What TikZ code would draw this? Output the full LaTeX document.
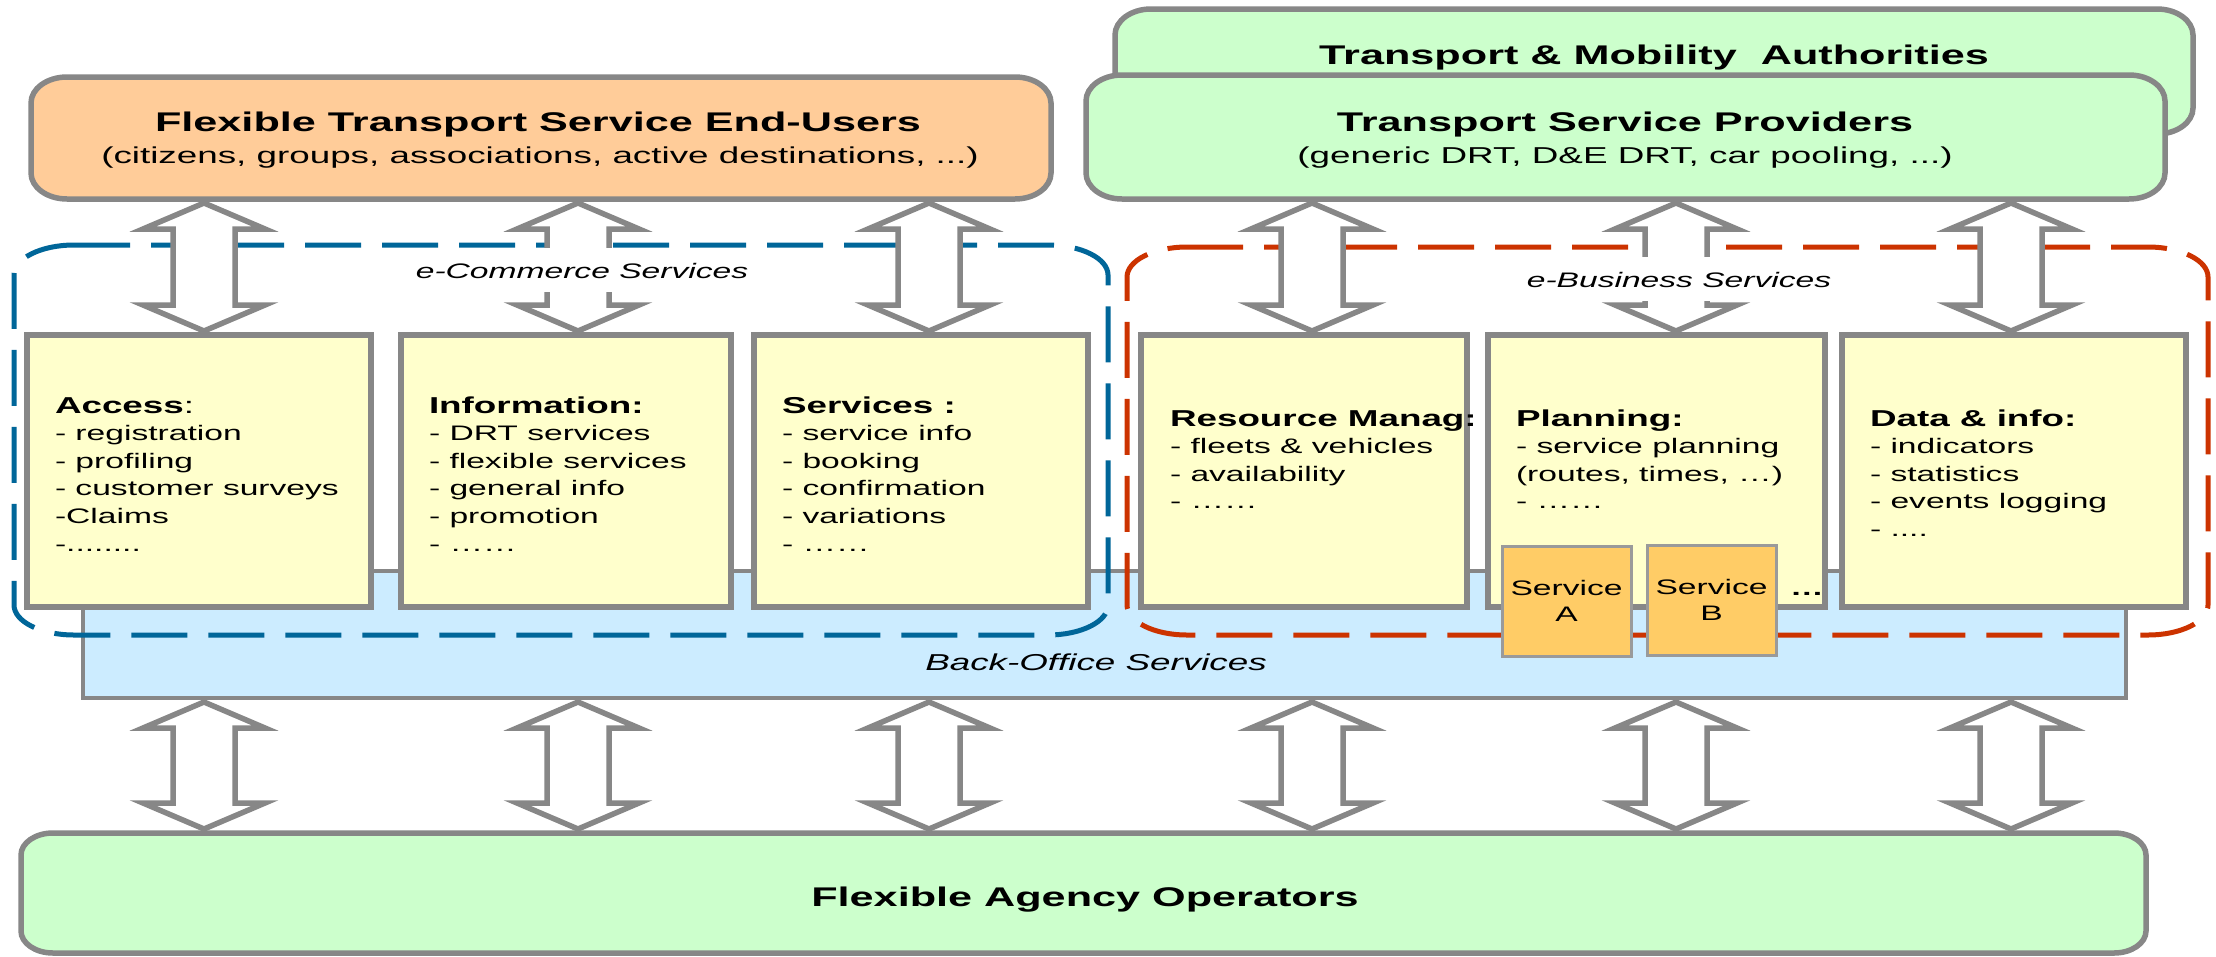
\documentclass[tikz,border=0pt]{standalone}
\usepackage{fontspec}
\setmainfont{Liberation Sans}[FakeStretch=1.6]
\usetikzlibrary{calc}

\definecolor{edgegray}{HTML}{878787}
\definecolor{svcgray}{HTML}{9A9A9A}
\definecolor{usersfill}{HTML}{FFCC99}
\definecolor{greenfill}{HTML}{CCFFCC}
\definecolor{yellowfill}{HTML}{FFFFCC}
\definecolor{bofill}{HTML}{CCECFF}
\definecolor{svcfill}{HTML}{FFCC66}
\definecolor{ecomblue}{HTML}{006699}
\definecolor{ebizred}{HTML}{CC3300}

% font sizes (1pt = one unit of the picture)
\newcommand\bigtitlefont{\fontsize{27pt}{32pt}\selectfont\bfseries}
\newcommand\subtitlefont{\fontsize{23pt}{28pt}\selectfont}
\newcommand\headfont{\fontsize{23pt}{27.6pt}\selectfont\bfseries}
\newcommand\headreg{\fontsize{23pt}{27.6pt}\selectfont}
\newcommand\itemfont{\fontsize{21pt}{27.6pt}\selectfont}
\newcommand\tagfont{\fontsize{21pt}{26pt}\selectfont}
\newcommand\areafont{\fontsize{21pt}{26pt}\selectfont\itshape}

% left-aligned list whose baseline is the baseline of its first line
\newcommand\stackedlines[1]{\vtop{\itemfont\halign{##\hfil\cr#1\crcr}}}

% frame with elliptic corners around a named node: #1 style, #2 node, #3 x radius, #4 y radius
\newcommand\softframe[4]{%
  \path[#1] ([xshift=#3]#2.north west) -- ([xshift=-#3]#2.north east)
    arc[start angle=90, end angle=0, x radius=#3, y radius=#4]
    -- ([yshift=#4]#2.south east)
    arc[start angle=0, end angle=-90, x radius=#3, y radius=#4]
    -- ([xshift=#3]#2.south west)
    arc[start angle=270, end angle=180, x radius=#3, y radius=#4]
    -- ([yshift=-#4]#2.north west)
    arc[start angle=180, end angle=90, x radius=#3, y radius=#4]
    -- cycle;}

\tikzset{
  slot/.style={inner sep=0pt, outer sep=0pt, anchor=north west},
  ybox/.style={slot, draw=edgegray, line width=5.5pt, fill=yellowfill, minimum height=272pt},
  svcbox/.style={slot, draw=svcgray, line width=3pt, fill=svcfill, minimum width=129pt,
    minimum height=110pt, align=center, font=\tagfont},
  topframe/.style={draw=edgegray, line width=5.5pt},
  areaframe/.style={line width=5pt, dash pattern=on 56pt off 21pt},
  txt/.style={inner sep=0pt, outer sep=0pt},
  arealabel/.style={fill=white, inner xsep=8pt, inner ysep=0pt, text height=30pt,
    text depth=14pt, anchor=base, font=\areafont},
  twoway/.style={draw=edgegray, line width=5.5pt, fill=white, line join=miter,
    to path={let \p1=(\tikztostart), \p2=(\tikztotarget) in
      (\x1,\y1-4pt) -- (\x1+61pt,\y1-30pt) -- (\x1+31pt,\y1-30pt)
      -- (\x1+31pt,\y2+30pt) -- (\x1+61pt,\y2+30pt) -- (\x1,\y2+4pt)
      -- (\x1-61pt,\y2+30pt) -- (\x1-31pt,\y2+30pt)
      -- (\x1-31pt,\y1-30pt) -- (\x1-61pt,\y1-30pt) -- cycle}}
}

\begin{document}
\begin{tikzpicture}[x=1pt, y=-1pt]
\useasboundingbox (0,0) rectangle (2216,956);
\fill[white] (0,0) rectangle (2216,956);

% back-office layer
\node[slot, draw=edgegray, line width=3.5pt, fill=bofill, minimum width=2043pt, minimum height=127pt] (bo) at (83,571) {};
\node[txt, anchor=base, font=\fontsize{23pt}{28pt}\selectfont\itshape] (bo-label) at (1096,670) {Back-Office Services};

% service areas
\node[slot, minimum width=1094pt, minimum height=390pt] (ecom) at (14,245) {};
\node[slot, minimum width=1081pt, minimum height=388pt] (ebiz) at (1127,247) {};
\softframe{areaframe, draw=ecomblue}{ecom}{60pt}{30pt}
\softframe{areaframe, draw=ebizred}{ebiz}{60pt}{30pt}

% service boxes
\node[ybox, minimum width=344pt] (acc)  at (27,335) {};
\node[ybox, minimum width=330pt] (info) at (401,335) {};
\node[ybox, minimum width=334pt] (serv) at (754,335) {};
\node[ybox, minimum width=326pt] (res)  at (1141,335) {};
\node[ybox, minimum width=337pt] (plan) at (1488,335) {};
\node[ybox, minimum width=344pt] (data) at (1842,335) {};

\node[txt, anchor=base west] (acc-txt) at (55,413) {\stackedlines{%
  {\headfont Access}{\headreg:}\cr - registration\cr - profiling\cr
  - customer surveys\cr -Claims\cr -........}};
\node[txt, anchor=base west] (info-txt) at (429,413) {\stackedlines{%
  {\headfont Information:}\cr - DRT services\cr - flexible services\cr
  - general info\cr - promotion\cr - ……}};
\node[txt, anchor=base west] (serv-txt) at (782,413) {\stackedlines{%
  {\headfont Services :}\cr - service info\cr - booking\cr
  - confirmation\cr - variations\cr - ……}};
\node[txt, anchor=base west] (res-txt) at (1170,426) {\stackedlines{%
  {\headfont Resource Manag:}\cr - fleets \& vehicles\cr - availability\cr - ……}};
\node[txt, anchor=base west] (plan-txt) at (1516,426) {\stackedlines{%
  {\headfont Planning:}\cr - service planning\cr (routes, times, …)\cr - ……}};
\node[txt, anchor=base west] (data-txt) at (1870,426) {\stackedlines{%
  {\headfont Data \& info:}\cr - indicators\cr - statistics\cr
  - events logging\cr - ....}};

\node[svcbox] (svcA) at (1502,546) {Service\\A};
\node[svcbox] (svcB) at (1647,545) {Service\\B};
\node[txt, anchor=base west, font=\tagfont\bfseries] (more) at (1790,595) {…};

% actors
\node[slot, minimum width=1078pt, minimum height=125pt] (auth) at (1115,9) {};
\softframe{topframe, fill=greenfill}{auth}{36pt}{26pt}
\node[txt, anchor=base, font=\bigtitlefont] (auth-title) at (1654,64) {Transport \& Mobility\ \ Authorities};

\node[slot, minimum width=1079pt, minimum height=124pt] (tsp) at (1086,75) {};
\softframe{topframe, fill=greenfill}{tsp}{36pt}{26pt}
\node[txt, anchor=base, font=\bigtitlefont] (tsp-title) at (1625,131) {Transport Service Providers};
\node[txt, anchor=base, font=\subtitlefont] (tsp-sub) at (1625,163) {(generic DRT, D\&E DRT, car pooling, ...)};

\node[slot, minimum width=1020pt, minimum height=122pt] (users) at (31,77) {};
\softframe{topframe, fill=usersfill}{users}{36pt}{26pt}
\node[txt, anchor=base, font=\bigtitlefont] (users-title) at (538,131) {Flexible Transport Service End-Users};
\node[txt, anchor=base, font=\subtitlefont] (users-sub) at (540,163) {(citizens, groups, associations, active destinations, ...)};

\node[slot, minimum width=2125pt, minimum height=120pt] (agency) at (21,833) {};
\softframe{topframe, fill=greenfill}{agency}{32pt}{22pt}
\node[txt, anchor=base, font=\bigtitlefont] (agency-title) at (1085,906) {Flexible Agency Operators};

% two-way exchanges
\coordinate (a1) at (204,0);
\coordinate (a2) at (578,0);
\coordinate (a3) at (929,0);
\coordinate (a4) at (1312,0);
\coordinate (a5) at (1676,0);
\coordinate (a6) at (2011,0);

\draw[twoway] (a1 |- users.south) to (a1 |- acc.north);
\draw[twoway] (a2 |- users.south) to (a2 |- info.north);
\draw[twoway] (a3 |- users.south) to (a3 |- serv.north);
\draw[twoway] (a4 |- tsp.south) to (a4 |- res.north);
\draw[twoway] (a5 |- tsp.south) to (a5 |- plan.north);
\draw[twoway] (a6 |- tsp.south) to (a6 |- data.north);

\draw[twoway] (a1 |- bo.south) to (a1 |- agency.north);
\draw[twoway] (a2 |- bo.south) to (a2 |- agency.north);
\draw[twoway] (a3 |- bo.south) to (a3 |- agency.north);
\draw[twoway] (a4 |- bo.south) to (a4 |- agency.north);
\draw[twoway] (a5 |- bo.south) to (a5 |- agency.north);
\draw[twoway] (a6 |- bo.south) to (a6 |- agency.north);

% area names
\node[arealabel] (ecom-label) at (582,278) {e-Commerce Services};
\node[arealabel] (ebiz-label) at (1679,287) {e-Business Services};
\end{tikzpicture}
\end{document}
